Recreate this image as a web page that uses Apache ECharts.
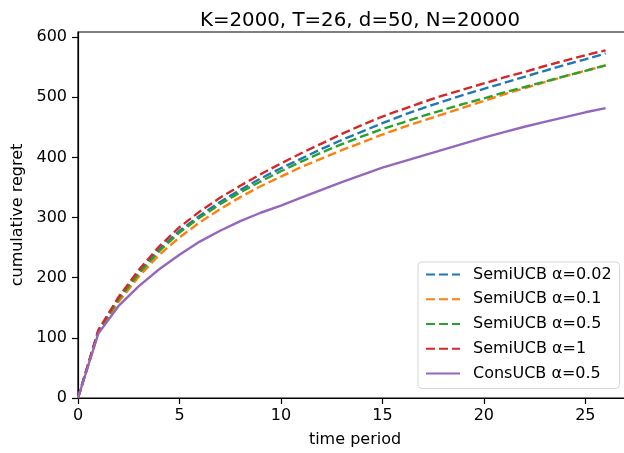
<!DOCTYPE html>
<html>
<head>
<meta charset="utf-8">
<script src="https://cdn.jsdelivr.net/npm/echarts@6/dist/echarts.min.js"></script>
<style>html,body{margin:0;padding:0;background:#fff}#c{width:624px;height:453px}</style>
</head>
<body>
<div id="c"></div>
<script>
var timePeriods = [0,1,2,3,4,5,6,7,8,9,10,11,12,13,14,15,16,17,18,19,20,21,22,23,24,25,26];
var semi002 = [0,111,165,209,247,278,303,326,346,365,382,398,414,429,443,457,470,482,493,504,514,524,534,544,554,563,573];
var semi01  = [0,108,160,202,238,267,292,314,334,352,368,384,398,412,425,438,450,461,472,483,494,505,515,525,535,544,553];
var semi05  = [0,110,164,207,244,275,300,322,342,360,377,393,408,422,435,447,458,469,479,489,498,508,517,526,535,544,553];
var semi1   = [0,113,168,213,252,284,310,333,353,372,390,407,423,439,454,468,480,492,503,513,523,533,542,552,561,570,578];
var cons05  = [0,107,153,186,214,238,260,278,294,308,320,333,346,359,371,383,393,403,413,423,433,442,451,459,467,475,482];
var seriesNames = ['SemiUCB α=0.02','SemiUCB α=0.1','SemiUCB α=0.5','SemiUCB α=1','ConsUCB α=0.5'];
var xTicks = [0,5,10,15,20,25];
var yTicks = [0,100,200,300,400,500,600];

var colors = ['#1f77b4','#ff7f0e','#2ca02c','#d62728','#9467bd'];
var dataSets = [semi002, semi01, semi05, semi1, cons05];
var font = 'DejaVu Sans';

function pairs(arr){ return timePeriods.map(function(t,i){ return [t, arr[i]]; }); }

var series = dataSets.map(function(d, i){
  var dashed = i < 4;
  return {
    name: seriesNames[i],
    type: 'line',
    data: pairs(d),
    showSymbol: false,
    symbol: 'none',
    smooth: false,
    animation: false,
    z: 2 + i,
    lineStyle: { color: colors[i], width: 2.4, type: dashed ? [9, 4] : 'solid' },
    itemStyle: { color: colors[i] }
  };
});

var chart = echarts.init(document.getElementById('c'), null, {renderer: 'canvas'});
chart.setOption({
  animation: false,
  backgroundColor: '#fff',
  title: {
    text: 'K=2000, T=26, d=50, N=20000',
    left: 355, top: 6, textAlign: 'center',
    textStyle: { fontFamily: font, fontSize: 19.8, fontWeight: 'normal', color: '#000' }
  },
  grid: { left: 78, width: 554, top: 32, bottom: 55, show: true, borderColor: '#000', borderWidth: 1.2,
          containLabel: false, outerBoundsMode: 'none' },
  legend: {
    orient: 'vertical',
    left: 418, top: 262,
    padding: [4.5, 8, 7, 7],
    itemWidth: 34, itemHeight: 14, itemGap: 8.75,
    borderColor: '#d6d6d6', borderWidth: 1, borderRadius: 4,
    backgroundColor: 'rgba(255,255,255,0.8)',
    itemStyle: { opacity: 0 },
    textStyle: { fontFamily: font, fontSize: 16, lineHeight: 16, color: '#000', padding: [0,0,0,8] },
    data: seriesNames
  },
  xAxis: {
    type: 'value', min: 0, max: 27.3, interval: 5,
    name: 'time period', nameLocation: 'middle', nameGap: 34,
    nameTextStyle: { fontFamily: font, fontSize: 16, color: '#000' },
    axisLine: { show: true, onZero: false, lineStyle: { color: '#000', width: 1.2 } },
    axisTick: { show: true, length: 6, inside: false, customValues: xTicks, lineStyle: { color: '#000', width: 1.2 } },
    axisLabel: { fontFamily: font, fontSize: 16, color: '#000', margin: 10, customValues: xTicks },
    splitLine: { show: false }
  },
  yAxis: {
    type: 'value', min: 0, max: 608.5, interval: 100,
    name: 'cumulative regret', nameLocation: 'middle', nameGap: 47, nameRotate: 90,
    nameTextStyle: { fontFamily: font, fontSize: 16, color: '#000' },
    axisLine: { show: true, onZero: false, lineStyle: { color: '#000', width: 1.2 } },
    axisTick: { show: true, length: 6, inside: false, customValues: yTicks, lineStyle: { color: '#000', width: 1.2 } },
    axisLabel: { fontFamily: font, fontSize: 16, color: '#000', margin: 11, customValues: yTicks },
    splitLine: { show: false }
  },
  series: series
});
</script>
</body>
</html>
